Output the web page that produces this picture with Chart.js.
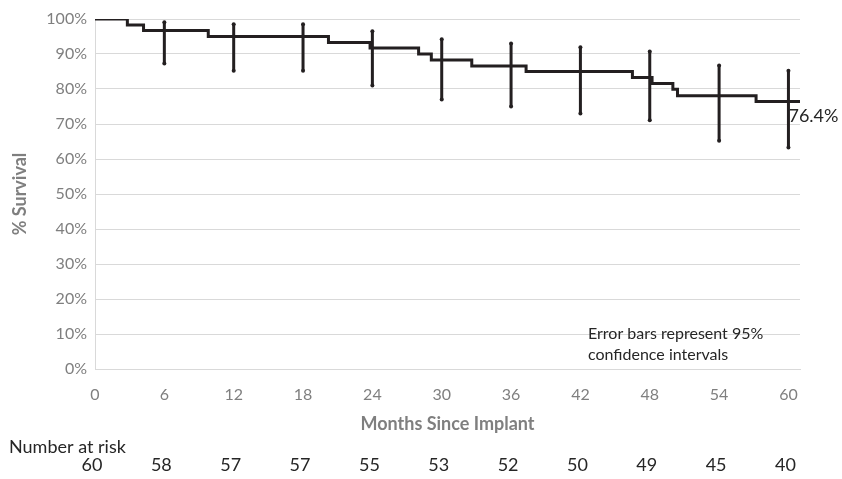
<!DOCTYPE html>
<html>
<head>
<meta charset="utf-8">
<script src="https://cdn.jsdelivr.net/npm/chart.js@4.4.1/dist/chart.umd.min.js"></script>
<style>
  html, body { margin: 0; padding: 0; background: #fff; }
  #wrap { width: 842px; height: 479px; }
</style>
</head>
<body>
<div id="wrap"><canvas id="kmChart" width="842" height="479"></canvas></div>
<script>
// Kaplan-Meier step points (months, % survival)
const eventMonths = [0, 2.8, 4.2, 9.8, 20.2, 23.8, 28.0, 29.1, 32.6, 37.3, 46.5, 48.2, 50.0, 50.4, 57.2, 61];
const survival = [100, 98.3, 96.7, 95.0, 93.3, 91.7, 90.0, 88.3, 86.6, 85.0, 83.3, 81.6, 79.9, 78.1, 76.4, 76.4];

// 95% confidence intervals at each 6-month mark
const ciMonths = [6, 12, 18, 24, 30, 36, 42, 48, 54, 60];
const ciHigh = [99.1, 98.5, 98.5, 96.5, 94.2, 93.0, 91.9, 90.7, 86.7, 85.2];
const ciLow = [87.3, 85.2, 85.2, 81.0, 77.0, 75.0, 73.0, 71.1, 65.2, 63.3];

// Number at risk table (also the x tick marks)
const riskMonths = [0, 6, 12, 18, 24, 30, 36, 42, 48, 54, 60];
const atRisk = [60, 58, 57, 57, 55, 53, 52, 50, 49, 45, 40];

const finalLabel = '76.4%';
const noteLines = ['Error bars represent 95%', 'confidence intervals'];

const FONT = 'Lato, "Open Sans", sans-serif';
const GRAY = '#7f7f7f';
const INK = '#231f20';

// Build error bar segments separated by gaps
const errorData = [];
ciMonths.forEach((m, i) => {
    errorData.push({ x: m, y: ciHigh[i] });
    errorData.push({ x: m, y: ciLow[i] });
    errorData.push({ x: m, y: null });
});

// Extra text: axis titles, end label, note, risk table
const annotations = {
    id: 'annotations',
    afterDraw(chart) {
        const ctx = chart.ctx;
        const xs = chart.scales.x;
        const ys = chart.scales.y;
        const area = chart.chartArea;
        ctx.save();

        ctx.fillStyle = GRAY;
        ctx.font = 'bold 18px ' + FONT;
        ctx.textAlign = 'center';
        ctx.textBaseline = 'middle';
        ctx.fillText('Months Since Implant', (area.left + area.right) / 2, 424);

        ctx.save();
        ctx.translate(20, (area.top + area.bottom) / 2);
        ctx.rotate(-Math.PI / 2);
        ctx.fillText('% Survival', 0, 0);
        ctx.restore();

        ctx.fillStyle = '#262626';
        ctx.textAlign = 'left';
        ctx.textBaseline = 'alphabetic';
        ctx.font = '18px ' + FONT;
        ctx.fillText(finalLabel, xs.getPixelForValue(60), ys.getPixelForValue(survival[survival.length - 1]) + 20);

        ctx.font = '16px ' + FONT;
        noteLines.forEach((line, i) => {
            ctx.fillText(line, 588, 339 + i * 21);
        });

        ctx.font = '18px ' + FONT;
        ctx.fillText('Number at risk', 9, 453);
        ctx.textAlign = 'center';
        riskMonths.forEach((m, i) => {
            ctx.fillText(String(atRisk[i]), xs.getPixelForValue(m) - 3, 471);
        });

        ctx.restore();
    }
};

new Chart(document.getElementById('kmChart'), {
    type: 'line',
    data: {
        datasets: [
            {
                label: 'Survival',
                data: eventMonths.map((m, i) => ({ x: m, y: survival[i] })),
                stepped: true,
                borderColor: INK,
                borderWidth: 3,
                pointRadius: 0,
                fill: false
            },
            {
                label: '95% CI',
                data: errorData,
                borderColor: INK,
                borderWidth: 3,
                pointRadius: 2,
                pointBackgroundColor: INK,
                pointBorderWidth: 0,
                spanGaps: false,
                fill: false
            }
        ]
    },
    options: {
        responsive: false,
        animation: false,
        layout: { padding: { left: 0, right: 42, top: 19, bottom: 0 } },
        plugins: {
            legend: { display: false },
            tooltip: { enabled: false }
        },
        scales: {
            x: {
                type: 'linear',
                min: 0,
                max: 61,
                afterFit(scale) { scale.height = 110; },
                afterBuildTicks(scale) {
                    scale.ticks = riskMonths.map(v => ({ value: v }));
                },
                ticks: {
                    stepSize: 6,
                    padding: 16,
                    color: GRAY,
                    font: { family: FONT, size: 16 },
                    maxRotation: 0
                },
                grid: { display: false, drawTicks: false },
                border: { display: true, color: '#d9d9d9', width: 1 }
            },
            y: {
                min: 0,
                max: 100,
                afterFit(scale) { scale.width = 95; },
                ticks: {
                    stepSize: 10,
                    padding: 8,
                    color: GRAY,
                    font: { family: FONT, size: 16 },
                    callback: v => v + '%'
                },
                grid: { color: '#d9d9d9', lineWidth: 1, drawTicks: false },
                border: { display: true, color: '#d9d9d9', width: 1 }
            }
        }
    },
    plugins: [annotations]
});
</script>
</body>
</html>
